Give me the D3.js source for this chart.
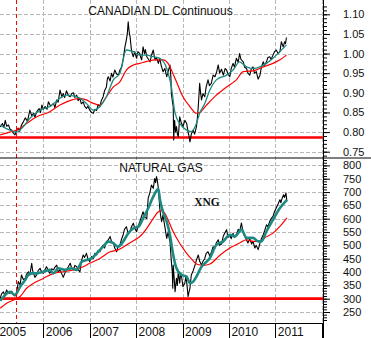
<!DOCTYPE html>
<html><head><meta charset="utf-8">
<script src="https://cdn.jsdelivr.net/npm/d3@7"></script>
<style>
html,body{margin:0;padding:0;background:#fff;}
svg{display:block;}
text{font-family:Arial,"Liberation Sans",sans-serif;fill:#111;}
</style></head><body>
<svg id="c" width="371" height="338"></svg>
<script>
// ---------- data ----------
const yearTicks = [2005, 2006, 2007, 2008, 2009, 2010, 2011, 2012];
const yearLabels = ["2005", "2006", "2007", "2008", "2009", "2010", "2011"];
const cadTicks = [0.75, 0.80, 0.85, 0.90, 0.95, 1.00, 1.05, 1.10];
const ngTicks = [250, 300, 350, 400, 450, 500, 550, 600, 650, 700, 750, 800];
const cadSupport = 0.786;
const ngSupport = 300;
const markerYear = 2005.41;
const cadTitle = "CANADIAN DL Continuous";
const ngTitle = "NATURAL GAS";
const ngTag = "XNG";

const cadPrice = [[2005.07,0.813],[2005.12,0.822],[2005.15,0.812],[2005.18,0.830],[2005.21,0.815],[2005.25,0.818],[2005.28,0.808],[2005.32,0.805],[2005.35,0.798],[2005.39,0.793],[2005.42,0.803],[2005.46,0.810],[2005.49,0.802],[2005.53,0.818],[2005.57,0.826],[2005.61,0.836],[2005.66,0.828],[2005.71,0.856],[2005.75,0.842],[2005.79,0.848],[2005.82,0.838],[2005.86,0.852],[2005.91,0.860],[2005.94,0.850],[2005.97,0.869],[2006.00,0.858],[2006.04,0.865],[2006.08,0.858],[2006.11,0.877],[2006.16,0.866],[2006.22,0.873],[2006.25,0.862],[2006.29,0.882],[2006.32,0.876],[2006.36,0.907],[2006.40,0.890],[2006.43,0.898],[2006.46,0.888],[2006.50,0.905],[2006.54,0.893],[2006.58,0.890],[2006.61,0.898],[2006.65,0.900],[2006.68,0.888],[2006.72,0.894],[2006.75,0.880],[2006.79,0.886],[2006.82,0.872],[2006.86,0.877],[2006.89,0.866],[2006.93,0.860],[2006.96,0.866],[2007.00,0.856],[2007.04,0.850],[2007.08,0.848],[2007.11,0.858],[2007.15,0.855],[2007.18,0.870],[2007.22,0.865],[2007.25,0.880],[2007.29,0.890],[2007.32,0.905],[2007.36,0.915],[2007.38,0.935],[2007.40,0.941],[2007.44,0.930],[2007.47,0.950],[2007.50,0.940],[2007.54,0.958],[2007.58,0.948],[2007.62,0.945],[2007.65,0.958],[2007.69,0.966],[2007.72,0.985],[2007.76,1.017],[2007.79,1.035],[2007.81,1.050],[2007.83,1.081],[2007.85,1.055],[2007.87,1.043],[2007.89,1.020],[2007.90,1.009],[2007.92,0.998],[2007.94,0.992],[2007.97,1.005],[2008.01,0.988],[2008.04,1.005],[2008.08,1.000],[2008.10,0.990],[2008.12,0.984],[2008.15,1.017],[2008.18,1.000],[2008.20,1.010],[2008.23,0.992],[2008.27,0.985],[2008.30,0.979],[2008.33,0.995],[2008.37,1.009],[2008.39,0.995],[2008.41,0.984],[2008.44,0.990],[2008.48,0.975],[2008.51,0.988],[2008.54,0.970],[2008.58,0.954],[2008.62,0.962],[2008.66,0.941],[2008.69,0.954],[2008.73,0.971],[2008.75,0.940],[2008.76,0.899],[2008.78,0.880],[2008.80,0.865],[2008.81,0.780],[2008.83,0.830],[2008.85,0.800],[2008.87,0.814],[2008.89,0.795],[2008.91,0.788],[2008.94,0.839],[2008.97,0.825],[2009.01,0.814],[2009.05,0.830],[2009.09,0.822],[2009.12,0.800],[2009.14,0.790],[2009.16,0.775],[2009.19,0.795],[2009.23,0.805],[2009.26,0.795],[2009.30,0.813],[2009.32,0.835],[2009.34,0.865],[2009.37,0.924],[2009.39,0.900],[2009.41,0.882],[2009.44,0.898],[2009.48,0.890],[2009.51,0.915],[2009.55,0.933],[2009.58,0.918],[2009.62,0.924],[2009.66,0.945],[2009.70,0.941],[2009.74,0.955],[2009.77,0.971],[2009.80,0.950],[2009.84,0.960],[2009.88,0.945],[2009.92,0.962],[2009.95,0.958],[2009.98,0.948],[2010.02,0.941],[2010.05,0.962],[2010.09,0.975],[2010.12,0.965],[2010.16,0.988],[2010.20,0.978],[2010.23,1.000],[2010.26,0.985],[2010.31,0.979],[2010.34,0.965],[2010.38,0.962],[2010.41,0.950],[2010.45,0.945],[2010.48,0.960],[2010.52,0.966],[2010.55,0.950],[2010.59,0.954],[2010.63,0.935],[2010.67,0.945],[2010.70,0.965],[2010.74,0.979],[2010.77,0.970],[2010.81,0.979],[2010.84,0.990],[2010.88,0.992],[2010.91,0.985],[2010.95,0.996],[2010.98,1.004],[2011.02,1.009],[2011.06,1.000],[2011.10,1.005],[2011.13,1.030],[2011.17,1.017],[2011.20,1.030],[2011.22,1.025],[2011.24,1.041]];

const cadFast = [[2005.07,0.818],[2005.28,0.805],[2005.43,0.800],[2005.57,0.814],[2005.71,0.835],[2005.93,0.856],[2006.14,0.865],[2006.36,0.886],[2006.50,0.894],[2006.72,0.890],[2006.93,0.873],[2007.08,0.856],[2007.22,0.865],[2007.36,0.890],[2007.51,0.933],[2007.65,0.950],[2007.79,1.009],[2007.94,1.005],[2008.08,0.996],[2008.23,0.996],[2008.37,0.992],[2008.51,0.988],[2008.66,0.962],[2008.76,0.915],[2008.84,0.848],[2008.94,0.822],[2009.09,0.805],[2009.19,0.801],[2009.30,0.822],[2009.37,0.848],[2009.48,0.873],[2009.59,0.907],[2009.73,0.933],[2009.95,0.945],[2010.09,0.958],[2010.23,0.979],[2010.38,0.966],[2010.52,0.962],[2010.67,0.966],[2010.81,0.975],[2010.95,0.988],[2011.10,1.005],[2011.24,1.022]];

const cadSlow = [[2005.07,0.793],[2005.28,0.800],[2005.43,0.805],[2005.64,0.822],[2005.86,0.839],[2006.14,0.852],[2006.36,0.869],[2006.50,0.877],[2006.79,0.886],[2006.93,0.882],[2007.08,0.873],[2007.22,0.869],[2007.36,0.890],[2007.51,0.915],[2007.65,0.928],[2007.79,0.958],[2007.94,0.971],[2008.08,0.975],[2008.23,0.980],[2008.44,0.984],[2008.58,0.984],[2008.69,0.975],[2008.76,0.958],[2008.87,0.928],[2009.01,0.890],[2009.16,0.865],[2009.30,0.848],[2009.37,0.850],[2009.52,0.869],[2009.73,0.894],[2009.95,0.915],[2010.16,0.933],[2010.31,0.954],[2010.52,0.956],[2010.74,0.966],[2010.95,0.975],[2011.10,0.984],[2011.24,0.996]];

const ngPrice = [[2005.07,301],[2005.10,318],[2005.14,326],[2005.17,312],[2005.21,333],[2005.24,322],[2005.28,320],[2005.32,328],[2005.36,314],[2005.39,310],[2005.43,326],[2005.46,364],[2005.50,352],[2005.53,389],[2005.57,372],[2005.61,376],[2005.64,392],[2005.68,401],[2005.71,388],[2005.75,433],[2005.77,405],[2005.79,395],[2005.82,380],[2005.86,390],[2005.89,405],[2005.93,414],[2005.96,402],[2006.00,395],[2006.04,410],[2006.07,420],[2006.11,405],[2006.14,395],[2006.18,412],[2006.22,408],[2006.25,418],[2006.29,426],[2006.32,400],[2006.36,408],[2006.40,392],[2006.43,380],[2006.47,398],[2006.50,408],[2006.54,420],[2006.58,433],[2006.61,415],[2006.65,408],[2006.68,425],[2006.72,420],[2006.75,408],[2006.79,401],[2006.82,440],[2006.86,464],[2006.89,455],[2006.93,470],[2006.96,450],[2007.00,439],[2007.04,458],[2007.08,451],[2007.11,470],[2007.15,464],[2007.18,480],[2007.22,476],[2007.25,492],[2007.29,501],[2007.32,490],[2007.36,514],[2007.40,520],[2007.44,533],[2007.47,515],[2007.51,508],[2007.54,490],[2007.58,476],[2007.61,495],[2007.65,501],[2007.68,520],[2007.72,539],[2007.75,560],[2007.79,570],[2007.83,545],[2007.87,551],[2007.90,570],[2007.94,583],[2007.97,565],[2008.01,551],[2008.05,575],[2008.08,589],[2008.12,610],[2008.15,626],[2008.19,605],[2008.23,601],[2008.26,676],[2008.30,700],[2008.33,726],[2008.37,714],[2008.40,751],[2008.42,735],[2008.44,758],[2008.46,740],[2008.48,714],[2008.51,639],[2008.53,610],[2008.55,589],[2008.58,614],[2008.60,590],[2008.62,570],[2008.64,548],[2008.66,526],[2008.69,551],[2008.71,530],[2008.73,514],[2008.76,439],[2008.78,400],[2008.79,339],[2008.80,426],[2008.82,380],[2008.84,326],[2008.86,360],[2008.87,376],[2008.89,350],[2008.91,401],[2008.94,358],[2008.96,395],[2008.98,383],[2009.01,345],[2009.05,358],[2009.07,380],[2009.09,364],[2009.12,308],[2009.14,325],[2009.16,339],[2009.19,389],[2009.23,405],[2009.27,426],[2009.30,445],[2009.34,464],[2009.37,440],[2009.41,426],[2009.44,440],[2009.48,451],[2009.51,470],[2009.55,476],[2009.59,459],[2009.63,478],[2009.66,495],[2009.70,490],[2009.73,510],[2009.77,521],[2009.80,500],[2009.84,505],[2009.88,535],[2009.91,545],[2009.95,559],[2009.98,530],[2010.02,540],[2010.05,525],[2010.09,546],[2010.12,530],[2010.16,540],[2010.20,560],[2010.23,550],[2010.27,584],[2010.30,555],[2010.34,534],[2010.38,520],[2010.41,509],[2010.45,525],[2010.49,505],[2010.52,515],[2010.56,490],[2010.59,500],[2010.63,484],[2010.65,495],[2010.67,509],[2010.70,525],[2010.74,540],[2010.77,555],[2010.81,577],[2010.84,570],[2010.88,590],[2010.91,600],[2010.95,609],[2010.98,625],[2011.02,640],[2011.06,655],[2011.10,671],[2011.12,660],[2011.15,678],[2011.18,690],[2011.20,680],[2011.23,696],[2011.25,665]];

const ngFast = [[2005.07,292],[2005.18,314],[2005.28,326],[2005.39,314],[2005.50,345],[2005.61,370],[2005.71,395],[2005.86,395],[2006.00,401],[2006.14,408],[2006.22,395],[2006.32,414],[2006.47,408],[2006.61,414],[2006.72,408],[2006.83,439],[2006.93,445],[2007.04,451],[2007.15,470],[2007.29,495],[2007.40,514],[2007.51,508],[2007.61,495],[2007.72,514],[2007.83,545],[2007.94,564],[2008.05,570],[2008.15,601],[2008.26,639],[2008.37,683],[2008.48,712],[2008.51,676],[2008.58,626],[2008.66,589],[2008.73,539],[2008.80,464],[2008.87,414],[2008.98,389],[2009.09,383],[2009.16,358],[2009.23,364],[2009.30,383],[2009.41,420],[2009.52,439],[2009.59,453],[2009.73,502],[2009.88,515],[2010.02,540],[2010.13,534],[2010.27,559],[2010.38,528],[2010.52,528],[2010.63,515],[2010.70,515],[2010.81,553],[2010.95,596],[2011.10,640],[2011.25,671]];

const ngSlow = [[2005.07,264],[2005.21,283],[2005.36,295],[2005.50,308],[2005.64,339],[2005.79,358],[2006.00,376],[2006.22,395],[2006.43,401],[2006.65,408],[2006.86,420],[2007.00,433],[2007.22,451],[2007.44,476],[2007.61,483],[2007.79,501],[2007.97,520],[2008.08,533],[2008.23,564],[2008.37,601],[2008.48,626],[2008.55,630],[2008.62,620],[2008.69,595],[2008.80,551],[2008.94,508],[2009.09,470],[2009.23,442],[2009.30,430],[2009.45,425],[2009.59,430],[2009.80,462],[2010.02,490],[2010.23,509],[2010.38,521],[2010.52,515],[2010.67,515],[2010.77,528],[2010.95,546],[2011.10,571],[2011.25,603]];

// ---------- layout ----------
const svg = d3.select('#c');
const axisX = 323;           // right value axis
const topBottom = 157.5;     // separator
const xAxisY = 323;          // time axis
const gridColor = '#b8b8b8';
const teal = '#1c8a80';
const red = '#ff0000';

const x = d3.scaleLinear().domain([2005, 2012]).range([-3.1, 321.7]);
const yTop = d3.scaleLinear().domain([0.75, 1.10]).range([151.7, 14.3]);
const yBot = d3.scaleLinear().domain([250, 800]).range([312, 165.4]);

const defs = svg.append('defs');
defs.append('clipPath').attr('id', 'clipTop').append('rect')
  .attr('x', 0).attr('y', 0).attr('width', axisX).attr('height', topBottom);
defs.append('clipPath').attr('id', 'clipBot').append('rect')
  .attr('x', 0).attr('y', topBottom + 0.5).attr('width', axisX).attr('height', xAxisY - topBottom - 0.5);

// vertical year gridlines (both panels)
svg.append('g').selectAll('line').data(yearTicks.slice(1)).join('line')
  .attr('x1', d => Math.round(x(d)) + 0.5).attr('x2', d => Math.round(x(d)) + 0.5)
  .attr('y1', 0).attr('y2', xAxisY)
  .attr('stroke', gridColor).attr('stroke-dasharray', '4,2');

function panel(clipId, y, ticks, support, fast, slow, price, fastW) {
  const g = svg.append('g').attr('clip-path', `url(#${clipId})`);
  g.append('g').selectAll('line').data(ticks).join('line')
    .attr('x1', 0).attr('x2', axisX)
    .attr('y1', d => Math.round(y(d)) + 0.5).attr('y2', d => Math.round(y(d)) + 0.5)
    .attr('stroke', gridColor).attr('stroke-dasharray', '4,2');
  g.append('line').attr('x1', 0).attr('x2', axisX)
    .attr('y1', y(support)).attr('y2', y(support))
    .attr('stroke', red).attr('stroke-width', 2.6);
  const line = d3.line().x(d => x(d[0])).y(d => y(d[1]));
  g.append('path').datum(price).attr('d', line).attr('fill', 'none')
    .attr('stroke', '#000').attr('stroke-width', 1.1).attr('stroke-linejoin', 'round');
  g.append('path').datum(slow).attr('d', line.curve(d3.curveMonotoneX)).attr('fill', 'none')
    .attr('stroke', red).attr('stroke-width', 1.2);
  g.append('path').datum(fast).attr('d', line.curve(d3.curveMonotoneX)).attr('fill', 'none')
    .attr('stroke', teal).attr('stroke-width', fastW);
}
panel('clipTop', yTop, cadTicks, cadSupport, cadFast, cadSlow, cadPrice, 1.3);
panel('clipBot', yBot, ngTicks, ngSupport, ngFast, ngSlow, ngPrice, 2.6);

// red dashed marker
svg.append('line').attr('x1', Math.round(x(markerYear)) + 0.5).attr('x2', Math.round(x(markerYear)) + 0.5)
  .attr('y1', 0).attr('y2', xAxisY)
  .attr('stroke', red).attr('stroke-dasharray', '4,3');

// right axes
function rightAxis(y, ticks, minor, fmt, y0, y1) {
  const g = svg.append('g').attr('transform', `translate(${axisX},0)`);
  const major = d3.axisRight(y).tickValues(ticks).tickSize(7).tickPadding(13).tickFormat(fmt);
  g.call(major);
  g.select('.domain').remove();
  g.selectAll('text').attr('font-size', 11).attr('font-family', 'Arial, "Liberation Sans", sans-serif').attr('fill', '#111');
  const gm = svg.append('g').attr('transform', `translate(${axisX},0)`);
  gm.call(d3.axisRight(y).tickValues(minor).tickSize(4).tickFormat(''));
  gm.select('.domain').remove();
  [g, gm].forEach(s => s.selectAll('.tick').filter(d => y(d) < y0 || y(d) > y1).remove());
}
rightAxis(yTop, cadTicks, d3.range(74, 113).map(d => d / 100), d3.format('.2f'), 1, 157);
rightAxis(yBot, ngTicks, d3.range(22, 83).map(d => d * 10), d3.format('d'), 159, 322);

svg.append('line').attr('x1', axisX + 0.5).attr('x2', axisX + 0.5).attr('y1', 0).attr('y2', xAxisY + 15)
  .attr('stroke', '#000');
svg.append('line').attr('x1', 0).attr('x2', 371).attr('y1', topBottom + 0.5).attr('y2', topBottom + 0.5)
  .attr('stroke', '#000');

// time axis
const xa = svg.append('g').attr('transform', `translate(0,${xAxisY})`);
xa.append('line').attr('x1', 0).attr('x2', axisX).attr('y1', 0.5).attr('y2', 0.5).attr('stroke', '#000');
xa.selectAll('line.yt').data(yearTicks).join('line').attr('class', 'yt')
  .attr('x1', d => Math.round(x(d)) + 0.5).attr('x2', d => Math.round(x(d)) + 0.5)
  .attr('y1', 0).attr('y2', 15).attr('stroke', '#000');
xa.selectAll('text').data(yearLabels).join('text')
  .attr('x', (d, i) => x(yearTicks[i]) + 2.5).attr('y', 12.5)
  .attr('font-size', 12).text(d => d);

// titles
svg.append('text').attr('x', 160.5).attr('y', 15).attr('text-anchor', 'middle')
  .attr('font-size', 12).text(cadTitle);
svg.append('text').attr('x', 161).attr('y', 171.7).attr('text-anchor', 'middle')
  .attr('font-size', 12).text(ngTitle);
svg.append('text').attr('x', 207).attr('y', 205.5).attr('text-anchor', 'middle')
  .attr('font-size', 11.5).attr('font-weight', 'bold')
  .style('font-family', '"Liberation Serif", "Times New Roman", serif').text(ngTag);
</script>
</body></html>
